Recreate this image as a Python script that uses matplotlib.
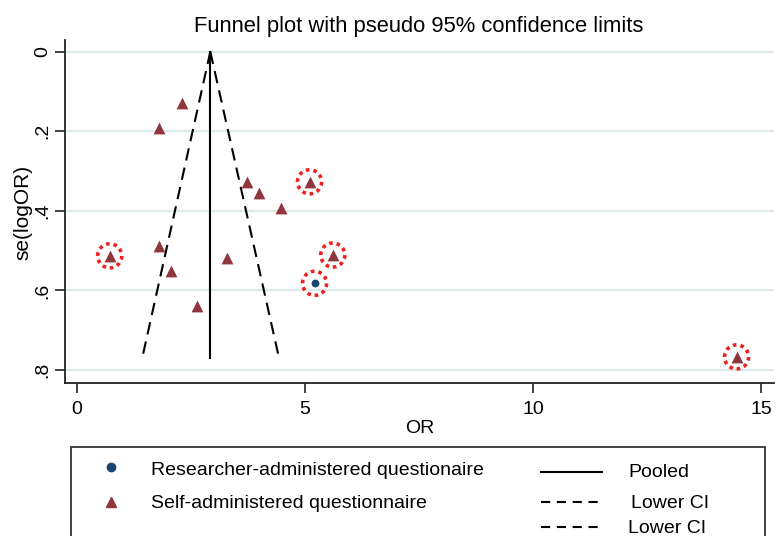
import matplotlib
matplotlib.use("Agg")
import matplotlib.pyplot as plt
from matplotlib.lines import Line2D
from matplotlib.patches import Rectangle

plt.rcParams['font.family'] = ['Liberation Sans', 'DejaVu Sans']

# ---- data ----
or_self = [2.30, 1.80, 3.72, 4.00, 4.48, 5.10, 1.80, 0.72, 3.30, 5.61, 2.06, 2.63, 14.46]
se_self = [0.129, 0.193, 0.327, 0.356, 0.394, 0.327, 0.488, 0.513, 0.519, 0.511, 0.550, 0.639, 0.767]
flag_self = [False, False, False, False, False, True, False, True, False, True, False, False, True]

or_res = [5.21]
se_res = [0.582]
flag_res = [True]

pooled_or = 2.925
ci_se = [0.0, 0.769]
ci_lower = [2.925, 1.434]
ci_upper = [2.925, 4.43]

xticks = [0, 5, 10, 15]
yticks = [0, 0.2, 0.4, 0.6, 0.8]
ytick_labels = ['0', '.2', '.4', '.6', '.8']

title = "Funnel plot with pseudo 95% confidence limits"
legend_labels = ["Researcher-administered questionaire", "Self-administered questionnaire",
                 "Pooled", "Lower CI", "Lower CI"]

MAROON = '#90353b'
NAVY = '#1a476f'
RED = '#ee2020'
GRID = '#dde9ea'
W, H = 776, 536

fig = plt.figure(figsize=(W / 100, H / 100), dpi=100)
fig.patch.set_facecolor('white')

ax = fig.add_axes([65 / W, 1 - 383 / H, (774 - 65) / W, (383 - 40) / H])
ax.set_xlim(-0.26, 15.28)
ax.set_ylim(0.8326, -0.0294)

ax.set_axisbelow(True)
ax.yaxis.grid(True, color=GRID, lw=1.6)
for s in ['top', 'right']:
    ax.spines[s].set_visible(False)
for s in ['left', 'bottom']:
    ax.spines[s].set_linewidth(1.3)
    ax.spines[s].set_color('#222222')

ax.set_xticks(xticks)
ax.set_xticklabels([str(t) for t in xticks])
ax.set_yticks(yticks)
ax.set_yticklabels(ytick_labels, rotation=90, va='center')
ax.tick_params(direction='out', length=7, width=1.2, color='#222222', labelsize=14)
ax.tick_params(axis='x', pad=6)
ax.tick_params(axis='y', pad=3)

# funnel lines
ax.plot([pooled_or, pooled_or], ci_se, color='black', lw=1.5, zorder=2)
ax.plot(ci_lower, ci_se, color='black', lw=1.5, ls=(0, (6, 3.5)), zorder=2)
ax.plot(ci_upper, ci_se, color='black', lw=1.5, ls=(0, (6, 3.5)), zorder=2)

# points
ax.scatter(or_self, se_self, marker='^', s=72, color=MAROON, zorder=3, linewidths=0)
ax.scatter(or_res, se_res, marker='o', s=32, color=NAVY, zorder=3, linewidths=0)

# dotted red highlight circles
hx = [x for x, f in zip(or_self, flag_self) if f] + [x for x, f in zip(or_res, flag_res) if f]
hy = [y for y, f in zip(se_self, flag_self) if f] + [y for y, f in zip(se_res, flag_res) if f]
ax.scatter(hx, hy, marker='o', s=300, facecolors='none', edgecolors=RED,
           linewidths=2.6, linestyles=(0, (1, 1.1)), zorder=4)

# titles / labels
fig.text(419 / W, 1 - 32 / H, title, ha='center', va='baseline', fontsize=15.8)
fig.text(420 / W, 1 - 433 / H, "OR", ha='center', va='baseline', fontsize=14)
fig.text(23 / W, 1 - 212 / H, "se(logOR)", ha='center', va='center', rotation=90, fontsize=15)

# legend box
fig.add_artist(Rectangle((71 / W, -0.2), (765 - 71) / W, 0.2 + (1 - 447 / H),
                         transform=fig.transFigure, fill=False, ec='#333333', lw=1.3))

def fy(py):
    return 1 - py / H

fig.add_artist(Line2D([111 / W], [fy(467)], marker='o', ms=6.0, color=NAVY, ls='none',
                      transform=fig.transFigure))
fig.add_artist(Line2D([111 / W], [fy(502)], marker='^', ms=7, color=MAROON, ls='none',
                      transform=fig.transFigure))
fig.text(151 / W, fy(475), legend_labels[0], ha='left', va='baseline', fontsize=14)
fig.text(151 / W, fy(508), legend_labels[1], ha='left', va='baseline', fontsize=14)

fig.add_artist(Line2D([541 / W, 602 / W], [fy(472), fy(472)], color='black', lw=1.5,
                      transform=fig.transFigure))
fig.add_artist(Line2D([541 / W, 602 / W], [fy(502), fy(502)], color='black', lw=1.5,
                      ls=(0, (4.4, 3.2)), transform=fig.transFigure))
fig.add_artist(Line2D([541 / W, 602 / W], [fy(527), fy(527)], color='black', lw=1.5,
                      ls=(0, (4.4, 3.2)), transform=fig.transFigure))
fig.text(628 / W, fy(477), legend_labels[2], ha='left', va='baseline', fontsize=14)
fig.text(631 / W, fy(508), legend_labels[3], ha='left', va='baseline', fontsize=14)
fig.text(628 / W, fy(533), legend_labels[4], ha='left', va='baseline', fontsize=14)

fig.savefig("out.png", dpi=100)
